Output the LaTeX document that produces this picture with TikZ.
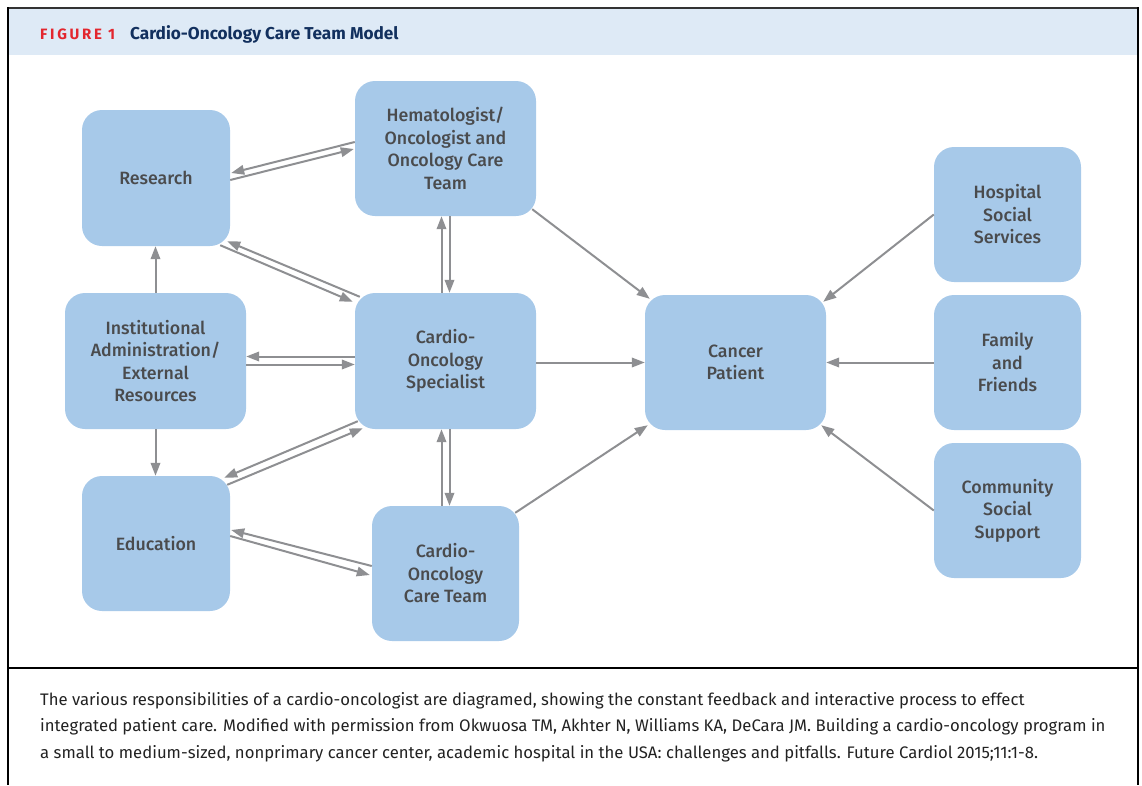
\documentclass[tikz,border=0pt]{standalone}
\usepackage{fontspec}
\setmainfont{Fira Sans}
\newfontfamily\boxfont{Fira Sans Medium}
\newfontfamily\figfont{Fira Sans}[LetterSpace=18]
\usetikzlibrary{arrows.meta,calc}
\definecolor{boxblue}{HTML}{A7C9E9}
\definecolor{boxtext}{HTML}{4A4B4D}
\definecolor{arrgray}{HTML}{8E8F92}
\definecolor{headblue}{HTML}{DEEAF6}
\definecolor{figred}{HTML}{E3262E}
\definecolor{navy}{HTML}{12305E}
\definecolor{captext}{HTML}{222222}
\tikzset{
  box/.style={rectangle, rounded corners=20pt, fill=boxblue, draw=none, inner sep=0pt,
    align=center, text=boxtext, font=\boxfont\fontsize{17.8}{22.5}\selectfont},
  arr/.style={draw=arrgray, line width=2pt, -{Triangle[length=13pt,width=9.5pt]}},
  frameline/.style={draw=black, line width=2pt}
}
\begin{document}
\begin{tikzpicture}[x=1pt,y=-1pt]
\useasboundingbox (0,0) rectangle (1142,785);
% header and frame
\fill[headblue] (8,8) rectangle (1138,55);
\draw[draw=black!80, line width=2pt] (7,8) -- (1139,8);
\draw[frameline] (8,7) -- (8,785);
\draw[frameline] (1138,7) -- (1138,785);
\draw[frameline] (8,668) -- (1138,668);
\node[anchor=base west, inner sep=0pt, text=figred, font=\figfont\bfseries\fontsize{15}{17}\selectfont] (fig) at (40,39) {FIGURE 1};
\node[anchor=base west, inner sep=0pt, text=navy, font=\bfseries\fontsize{17.2}{19}\selectfont] (title) at (130,39) {Cardio-Oncology Care Team Model};
% boxes
\node[box, minimum width=148pt, minimum height=136pt] (res) at (156,178) {Research};
\node[box, minimum width=181pt, minimum height=135pt] (hem) at (445.5,148.5) {Hematologist/\\Oncologist and\\Oncology Care\\Team};
\node[box, minimum width=181pt, minimum height=136pt] (inst) at (155.5,361) {Institutional\\Administration/\\External\\Resources};
\node[box, minimum width=181pt, minimum height=136pt] (spec) at (445.5,361) {Cardio-\\Oncology\\Specialist};
\node[box, minimum width=148pt, minimum height=135pt] (edu) at (156,543.5) {Education};
\node[box, minimum width=147pt, minimum height=135pt] (care) at (445.5,573.5) {Cardio-\\Oncology\\Care Team};
\node[box, minimum width=181pt, minimum height=135pt] (pat) at (735.5,362.5) {Cancer\\Patient};
\node[box, minimum width=147pt, minimum height=135pt] (hosp) at (1007.5,214.5) {Hospital\\Social\\Services};
\node[box, minimum width=147pt, minimum height=135pt] (fam) at (1007.5,362.5) {Family\\and\\Friends};
\node[box, minimum width=147pt, minimum height=135pt] (comm) at (1007.5,510.5) {Community\\Social\\Support};
% Research <-> Hematologist
\draw[arr] ($(hem.west)+(0,-6.5)$) -- ($(res.east)+(1,-5)$);
\draw[arr] ($(res.east)+(0,2)$) -- ($(hem.west)+(-1,0.5)$);
% Research <-> Specialist
\draw[arr] ($(spec.north west)+(5,4)$) -- ($(res.south east)+(-3,-5)$);
\draw[arr] ($(res.south east)+(-10,-1)$) -- ($(spec.north west)+(-2,9)$);
% Hematologist <-> Specialist
\draw[arr] ($(spec.north)+(-4,0)$) -- ($(hem.south)+(-4,0)$);
\draw[arr] ($(hem.south)+(4,0)$) -- ($(spec.north)+(4,0)$);
% Institutional -> Research / Education
\draw[arr] (inst.north) -- (inst.north |- res.south);
\draw[arr] (inst.south) -- (inst.south |- edu.north);
% Institutional <-> Specialist
\draw[arr] ($(spec.west)+(0,-4.5)$) -- ($(inst.east)+(0,-4.5)$);
\draw[arr] ($(inst.east)+(0,3.5)$) -- ($(spec.west)+(0,3.5)$);
% Education <-> Specialist
\draw[arr] ($(spec.south west)+(3,-8)$) -- ($(edu.north east)+(-6,2)$);
\draw[arr] ($(edu.north east)+(-3,9)$) -- ($(spec.south west)+(8,-1)$);
% Education <-> Care team
\draw[arr] ($(care.west)+(0,-7.5)$) -- ($(edu.east)+(1,-13.5)$);
\draw[arr] ($(edu.east)+(0,-7.5)$) -- ($(care.west)+(-2,1.5)$);
% Specialist <-> Care team
\draw[arr] ($(care.north)+(-4,0)$) -- ($(spec.south)+(-4,0)$);
\draw[arr] ($(spec.south)+(4,0)$) -- ($(care.north)+(4,0)$);
% to patient
\draw[arr] ($(hem.south east)+(-4,-7)$) -- ($(pat.north west)+(5,4)$);
\draw[arr] ($(spec.east)+(0,1.5)$) -- (pat.west);
\draw[arr] ($(care.north east)+(-4,7)$) -- ($(pat.south west)+(3,-5)$);
\draw[arr] (hosp.west) -- ($(pat.north east)+(-3,7)$);
\draw[arr] (fam.west) -- (pat.east);
\draw[arr] (comm.west) -- ($(pat.south east)+(-5,-5)$);
% caption
\node[anchor=north west, inner sep=0pt, align=left, text=captext, font=\fontsize{16.7}{26.5}\selectfont] (cap) at (40,692)
{The various responsibilities of a cardio-oncologist are diagramed, showing the constant feedback and interactive process to effect\\
integrated patient care. Modified with permission from Okwuosa TM, Akhter N, Williams KA, DeCara JM. Building a cardio-oncology program in\\
a small to medium-sized, nonprimary cancer center, academic hospital in the USA: challenges and pitfalls. Future Cardiol 2015;11:1-8.};
\end{tikzpicture}
\end{document}
